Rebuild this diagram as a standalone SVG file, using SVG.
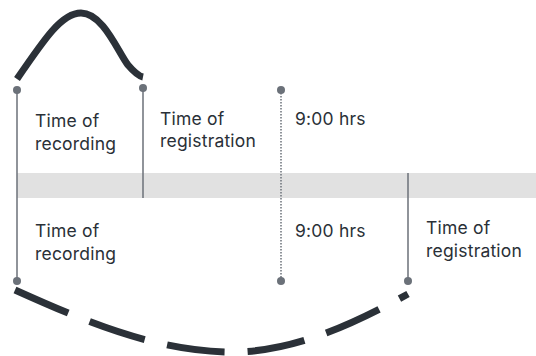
<svg xmlns="http://www.w3.org/2000/svg" width="536" height="356" viewBox="0 0 536 356">
<style>
.t{font-family:"Inter","Liberation Sans",sans-serif;font-size:17.5px;letter-spacing:0.2px;fill:#2a3037}
.ln{stroke:#6b7179;stroke-width:1.5;fill:none}
.dot{fill:#6b7179}
.crv{stroke:#2b3138;stroke-width:7;fill:none}
</style>
<rect x="17" y="173" width="519" height="25" fill="#e1e1e1"/>
<g id="connectors">
<line class="ln" x1="17" y1="90" x2="17" y2="281"/>
<line class="ln" x1="143" y1="88" x2="143" y2="198"/>
<line class="ln" x1="281" y1="90" x2="281" y2="281" stroke-dasharray="1.5 1.5"/>
<line class="ln" x1="408" y1="173" x2="408" y2="281"/>
<path class="crv" d="M17,79 C45,38 62,13 81,13 C103,13 118,52 128,65 C134,72 138,76 143,77"/>
<path class="crv" d="M15,290 C85,321.5 157,352 232,352 C292,352 350,326 408,294" stroke-dasharray="58 23"/>
</g>
<g id="dots">
<circle class="dot" cx="17" cy="90" r="4"/>
<circle class="dot" cx="143" cy="88" r="4"/>
<circle class="dot" cx="281" cy="90" r="4"/>
<circle class="dot" cx="17" cy="281" r="4"/>
<circle class="dot" cx="281" cy="281" r="4"/>
<circle class="dot" cx="408" cy="281" r="4"/>
</g>
<g id="top-recording"><text class="t" x="35" y="127">Time of</text><text class="t" x="35" y="150">recording</text></g>
<g id="top-registration"><text class="t" x="160" y="125">Time of</text><text class="t" x="160" y="147">registration</text></g>
<g id="top-nine"><text class="t" x="295" y="125">9:00 hrs</text></g>
<g id="bottom-recording"><text class="t" x="35" y="237">Time of</text><text class="t" x="35" y="260">recording</text></g>
<g id="bottom-nine"><text class="t" x="295" y="237">9:00 hrs</text></g>
<g id="bottom-registration"><text class="t" x="426" y="234">Time of</text><text class="t" x="426" y="257">registration</text></g>
</svg>
